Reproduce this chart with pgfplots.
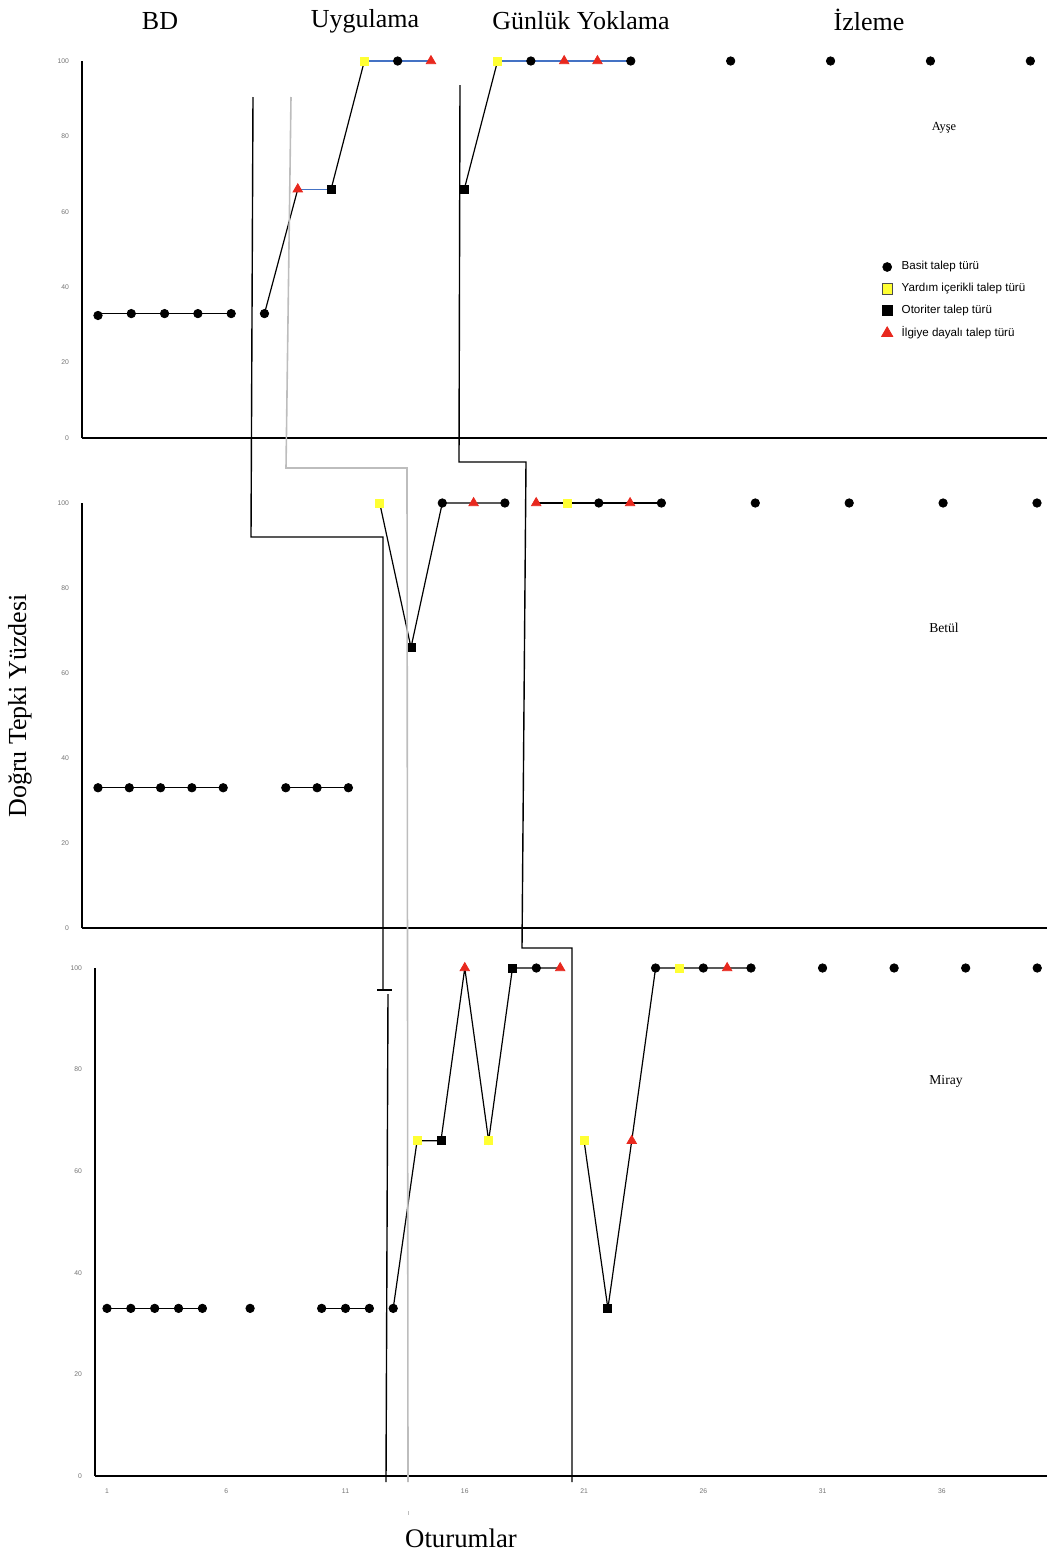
\documentclass[border=0pt]{standalone}
\usepackage{fontspec}
\setmainfont{Liberation Serif}
\newfontfamily\sansf{Liberation Sans}
\usepackage{pgfplots}
\pgfplotsset{compat=1.18}
\definecolor{myyellow}{HTML}{FFFF33}
\definecolor{myred}{HTML}{E8281E}
\definecolor{myblue}{HTML}{4472C4}
\definecolor{phasegray}{HTML}{BDBDBD}
\pgfplotsset{
 panel/.style={scale only axis, axis x line=bottom, axis y line=left,
   axis line style={-, line width=0.75pt, black}, ymin=0, ymax=100,
   ytick={0,20,40,60,80,100}, clip=false, major tick length=0pt,
   tick label style={font=\sansf\fontsize{3.4}{3.4}\selectfont, text=black!55},
   /pgf/number format/assume math mode=true, xtick=\empty,
   yticklabel style={xshift=-3pt}},
 circ/.style={only marks, mark=*, mark size=2.1pt, black, forget plot},
 ysq/.style={only marks, mark=square*, mark size=2pt, mark options={fill=myyellow, draw=myyellow}, forget plot},
 bsq/.style={only marks, mark=square*, mark size=2pt, black, forget plot},
 rtri/.style={only marks, mark=triangle*, mark size=2.7pt, mark options={fill=myred, draw=myred}, forget plot},
 bl/.style={black, line width=0.6pt, no markers, forget plot},
 bb/.style={myblue, line width=0.6pt, no markers, forget plot},
}
\begin{document}
\begin{tikzpicture}[x=0.5pt,y=-0.5pt]
\path[use as bounding box] (0,0) rectangle (1047,1553);
% ---------- Panel 1: Ayse ----------
\begin{axis}[panel, at={(41pt,-219pt)}, anchor=south west,
  width=482.5pt, height=188.5pt, xmin=0.52, xmax=29.5,
  legend style={draw=none, fill=none, at={(0.822,0.491)}, anchor=north west,
    font=\sansf\fontsize{5.8}{6.5}\selectfont, row sep=1.2pt,
    cells={anchor=west}, nodes={inner xsep=4.5pt}},
  legend cell align=left]
\addplot[bl] coordinates {(1,33)(2,33)(3,33)(4,33)(5,33)};
\addplot[bl] coordinates {(6,33)(7,66)};
\addplot[bb] coordinates {(7,66)(8,66)};
\addplot[bl] coordinates {(8,66)(9,100)};
\addplot[bb] coordinates {(9,100)(10,100)(11,100)};
\addplot[bl] coordinates {(12,66)(13,100)};
\addplot[bb] coordinates {(13,100)(14,100)(15,100)(16,100)(17,100)};
\addplot[circ] coordinates {(1,32.5)(2,33)(3,33)(4,33)(5,33)(6,33)(10,100)(14,100)(17,100)(20,100)(23,100)(26,100)(29,100)};
\addplot[ysq] coordinates {(9,100)(13,100)};
\addplot[bsq] coordinates {(8,66)(12,66)};
\addplot[rtri] coordinates {(7,66)(11,100)(15,100)(16,100)};
\addlegendimage{only marks, mark=*, mark size=2.2pt, black}
\addlegendentry{Basit talep türü}
\addlegendimage{only marks, mark=square*, mark size=2.6pt, mark options={fill=myyellow, draw=black!70, line width=0.3pt}}
\addlegendentry{Yardım içerikli talep türü}
\addlegendimage{only marks, mark=square*, mark size=2.6pt, black}
\addlegendentry{Otoriter talep türü}
\addlegendimage{only marks, mark=triangle*, mark size=3.2pt, mark options={fill=myred, draw=myred}}
\addlegendentry{İlgiye dayalı talep türü}
\end{axis}
% ---------- Panel 2: Betul ----------
\begin{axis}[panel, at={(41pt,-464pt)}, anchor=south west,
  width=482.5pt, height=212.5pt, xmin=0.489, xmax=31.32]
\addplot[bl] coordinates {(1,33)(2,33)(3,33)(4,33)(5,33)};
\addplot[bl] coordinates {(7,33)(8,33)(9,33)};
\addplot[bl] coordinates {(10,100)(11,66)(12,100)(13,100)(14,100)};
\addplot[bl] coordinates {(15,100)(16,100)(17,100)(18,100)(19,100)};
\addplot[circ] coordinates {(1,33)(2,33)(3,33)(4,33)(5,33)(7,33)(8,33)(9,33)(12,100)(14,100)(17,100)(19,100)(22,100)(25,100)(28,100)(31,100)};
\addplot[ysq] coordinates {(10,100)(16,100)};
\addplot[bsq] coordinates {(11,66)};
\addplot[rtri] coordinates {(13,100)(15,100)(18,100)};
\end{axis}
% ---------- Panel 3: Miray ----------
\begin{axis}[panel, at={(47.5pt,-738pt)}, anchor=south west,
  width=476pt, height=254pt, xmin=0.497, xmax=40.41,
  xtick={1,6,11,16,21,26,31,36}, xticklabel style={yshift=-3pt}]
\addplot[bl] coordinates {(1,33)(2,33)(3,33)(4,33)(5,33)};
\addplot[bl] coordinates {(10,33)(11,33)(12,33)};
\addplot[bl] coordinates {(13,33)(14,66)(15,66)(16,100)(17,66)(18,100)(19,100)(20,100)};
\addplot[bl] coordinates {(21,66)(22,33)(23,66)(24,100)(25,100)(26,100)(27,100)(28,100)};
\addplot[circ] coordinates {(1,33)(2,33)(3,33)(4,33)(5,33)(7,33)(10,33)(11,33)(12,33)(13,33)(19,100)(24,100)(26,100)(28,100)(31,100)(34,100)(37,100)(40,100)};
\addplot[ysq] coordinates {(14,66)(17,66)(21,66)(25,100)};
\addplot[bsq] coordinates {(15,66)(18,100)(22,33)};
\addplot[rtri] coordinates {(16,100)(20,100)(23,66)(27,100)};
\end{axis}
% ---------- Phase change lines ----------
\draw[black, line width=0.7pt] (253,97) -- (251,537) -- (383,537) -- (383,990);
\draw[black, line width=0.7pt] (377,990) -- (392,990);
\draw[black, line width=0.7pt] (388,994) -- (386,1482);
\draw[phasegray, line width=0.8pt] (291,97) -- (286,468) -- (407,468) -- (408,1482);
\draw[phasegray, line width=0.5pt] (408,1511) -- (408,1515);
\draw[black, line width=0.7pt] (460,85) -- (459,462) -- (526,462) -- (522,948) -- (572,948) -- (572,1482);
% ---------- Texts ----------
\node[font=\fontsize{13}{15}\selectfont] at (160,21) {BD};
\node[font=\fontsize{13}{15}\selectfont] at (365,21) {Uygulama};
\node[font=\fontsize{13}{15}\selectfont] at (581,21) {Günlük Yoklama};
\node[font=\fontsize{13}{15}\selectfont] at (869,20) {İzleme};
\node[font=\fontsize{6.2}{7}\selectfont] at (944,128) {Ayşe};
\node[font=\fontsize{6.8}{8}\selectfont] at (944,628) {Betül};
\node[font=\fontsize{6.8}{8}\selectfont] at (946,1081) {Miray};
\node[rotate=90, font=\fontsize{13}{15}\selectfont] at (20,706) {Doğru Tepki Yüzdesi};
\node[font=\fontsize{13.4}{15}\selectfont] at (461,1538) {Oturumlar};
\end{tikzpicture}
\end{document}
